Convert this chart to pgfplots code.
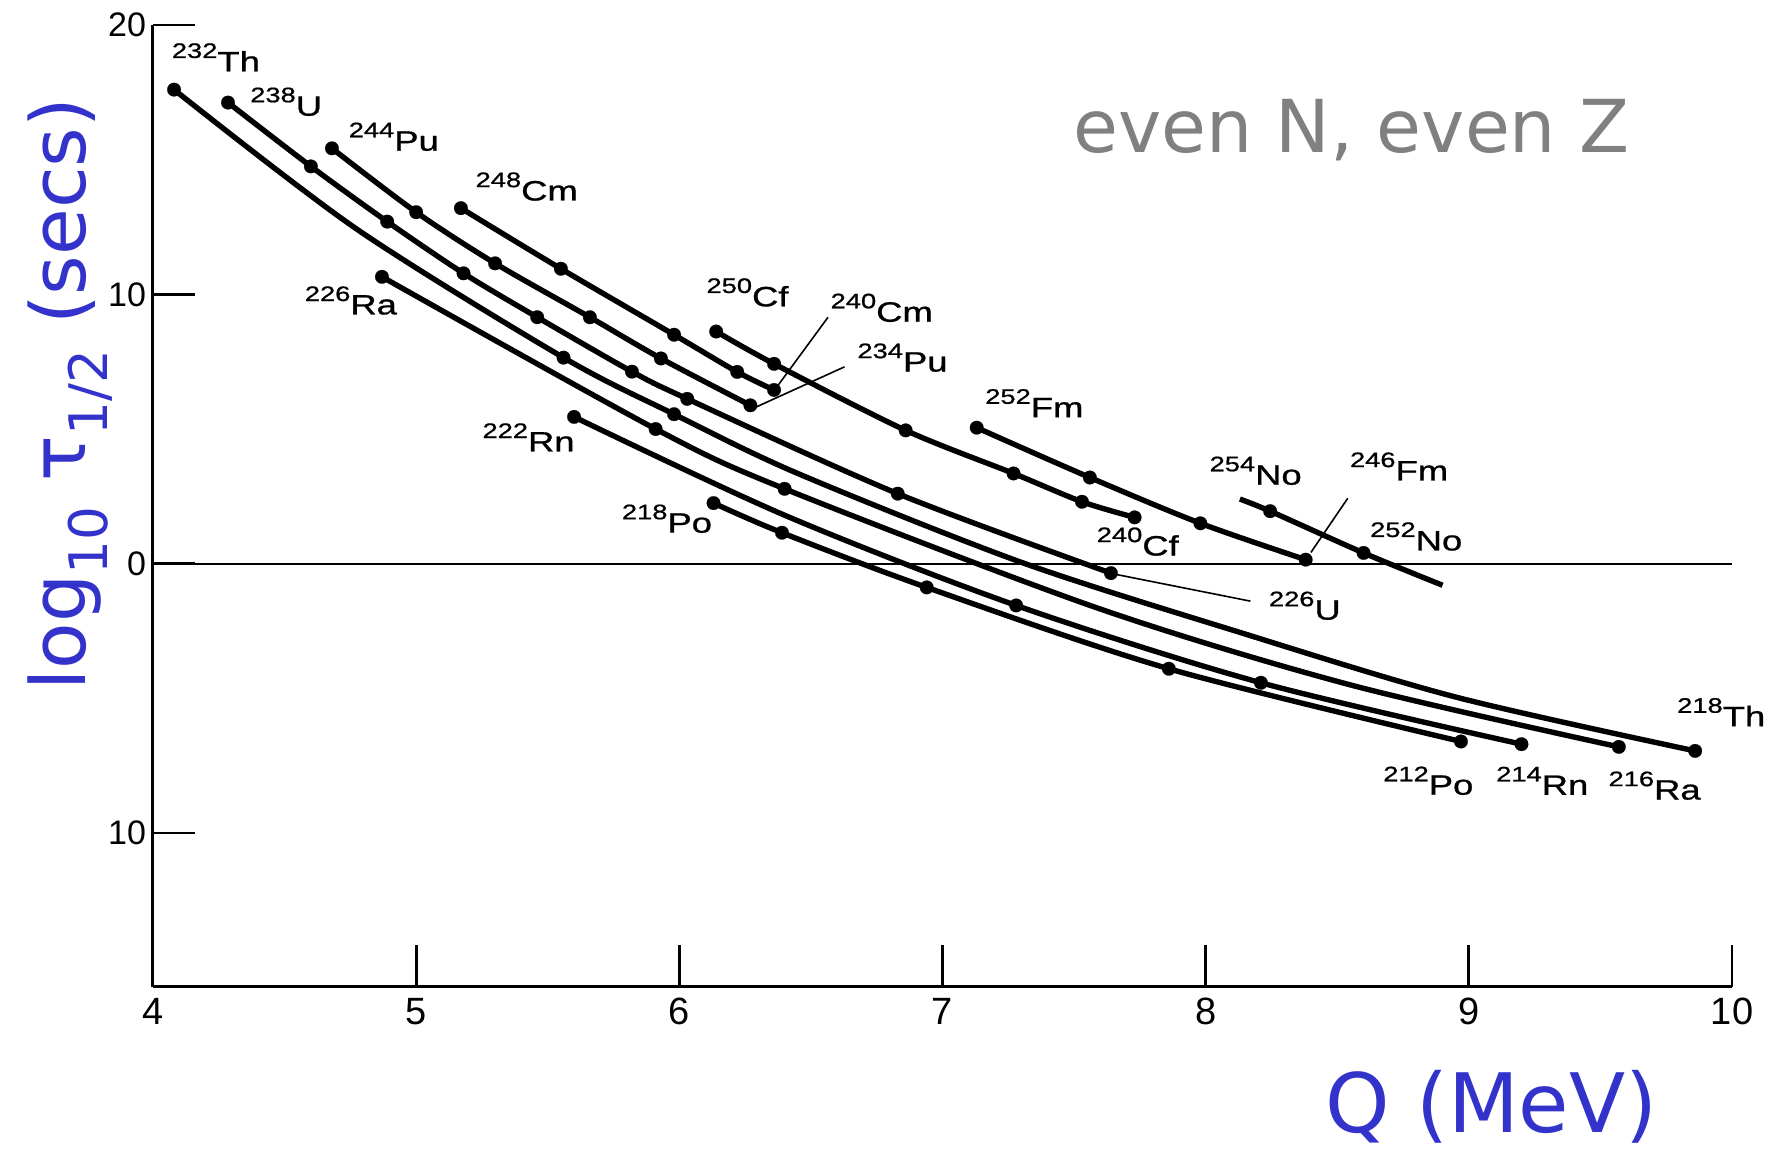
\documentclass[border=0pt]{standalone}
\usepackage{fontspec}
\setmainfont{Liberation Sans}
\newfontfamily\comic{DejaVu Sans}
\newfontfamily\isofont[FakeBold=0.8]{Liberation Sans}
\usepackage{graphicx}
\usepackage{pgfplots}
\pgfplotsset{compat=1.18}
\definecolor{lblue}{RGB}{51,51,204}
\definecolor{lgray}{RGB}{128,128,128}
\newcommand{\iso}[2]{\scalebox{1.3}[1]{\isofont\fontsize{14}{14}\selectfont\raisebox{6.7pt}{\fontsize{10.5}{10.5}\selectfont #1}#2}}
\begin{document}
\begin{tikzpicture}
\path[use as bounding box] (-76.5pt,-84.7pt) rectangle (812.5pt,493.3pt);
\begin{axis}[
  scale only axis, width=789.5pt, height=480.8pt,
  xmin=4, xmax=10, ymin=-15.7, ymax=20,
  axis lines*=left,
  axis line style={line width=1.5pt},
  clip=false,
  xtick={4,5,6,7,8,9,10},
  xticklabels={4,5,6,7,8,9,10},
  ytick={-10,0,10,20},
  yticklabels={10,0,10,20},
  tick align=inside,
  major tick length=21pt,
  tick style={line width=1.4pt, black},
  xticklabel style={font=\fontsize{19}{19}\selectfont, yshift=-2.2pt},
  yticklabel style={font=\fontsize{17}{17}\selectfont},
  curve/.style={black, line width=2.7pt, smooth},
  dots/.style={only marks, mark=*, mark size=3.4pt, black, mark options={line width=0.1pt}},
  lead/.style={black, line width=0.8pt},
]
% zero line
\addplot[black, line width=1.2pt] coordinates {(4,0) (10,0)};

% Th
\addplot[curve] coordinates {(4.08,17.6) (4.77,12.45) (5.56,7.65) (5.98,5.55) (6.45,3.35) (7.30,0.05) (8.13,-2.55) (8.95,-4.95) (9.86,-6.95)};
\addplot[dots] coordinates {(4.08,17.6) (5.56,7.65) (5.98,5.55) (9.86,-6.95)};
% U
\addplot[curve] coordinates {(4.285,17.12) (4.60,14.75) (4.89,12.7) (5.18,10.78) (5.46,9.15) (5.82,7.13) (6.03,6.12) (6.83,2.6) (7.64,-0.35)};
\addplot[dots] coordinates {(4.285,17.12) (4.60,14.75) (4.89,12.7) (5.18,10.78) (5.46,9.15) (5.82,7.13) (6.03,6.12) (6.83,2.6) (7.64,-0.35)};
% Pu
\addplot[curve] coordinates {(4.68,15.42) (5.00,13.05) (5.30,11.15) (5.66,9.15) (5.93,7.62) (6.27,5.88)};
\addplot[dots] coordinates {(4.68,15.42) (5.00,13.05) (5.30,11.15) (5.66,9.15) (5.93,7.62) (6.27,5.88)};
% Cm
\addplot[curve] coordinates {(5.17,13.2) (5.55,10.95) (5.98,8.5) (6.22,7.12) (6.36,6.45)};
\addplot[dots] coordinates {(5.17,13.2) (5.55,10.95) (5.98,8.5) (6.22,7.12) (6.36,6.45)};
% Cf
\addplot[curve] coordinates {(6.14,8.62) (6.36,7.42) (6.86,4.95) (7.27,3.35) (7.53,2.3) (7.73,1.72)};
\addplot[dots] coordinates {(6.14,8.62) (6.36,7.42) (6.86,4.95) (7.27,3.35) (7.53,2.3) (7.73,1.72)};
% Fm
\addplot[curve] coordinates {(7.13,5.05) (7.56,3.2) (7.98,1.5) (8.38,0.15)};
\addplot[dots] coordinates {(7.13,5.05) (7.56,3.2) (7.98,1.5) (8.38,0.15)};
% No
\addplot[curve] coordinates {(8.13,2.4) (8.245,1.95) (8.60,0.4) (8.90,-0.8)};
\addplot[dots] coordinates {(8.245,1.95) (8.60,0.4)};
% Ra
\addplot[curve] coordinates {(4.87,10.65) (5.91,5.0) (6.40,2.78) (7.59,-1.65) (8.55,-4.5) (9.57,-6.8)};
\addplot[dots] coordinates {(4.87,10.65) (5.91,5.0) (6.40,2.78) (9.57,-6.8)};
% Rn
\addplot[curve] coordinates {(5.60,5.45) (6.40,1.8) (7.28,-1.55) (8.21,-4.42) (9.20,-6.7)};
\addplot[dots] coordinates {(5.60,5.45) (7.28,-1.55) (8.21,-4.42) (9.20,-6.7)};
% Po
\addplot[curve] coordinates {(6.13,2.25) (6.39,1.15) (6.94,-0.88) (7.86,-3.9) (8.97,-6.6)};
\addplot[dots] coordinates {(6.13,2.25) (6.39,1.15) (6.94,-0.88) (7.86,-3.9) (8.97,-6.6)};

% leader lines
\addplot[lead] coordinates {(6.565,9.15) (6.375,6.62)};
\addplot[lead] coordinates {(6.628,7.31) (6.288,5.8)};
\addplot[lead] coordinates {(7.65,-0.38) (8.17,-1.39)};
\addplot[lead] coordinates {(8.54,2.43) (8.40,0.42)};

% isotope labels
\begin{scope}[every node/.style={inner sep=0pt}]
\node at (axis cs:4.239,18.8) {\iso{232}{Th}};
\node at (axis cs:4.506,17.15) {\iso{238}{U}};
\node at (axis cs:4.915,15.85) {\iso{244}{Pu}};
\node at (axis cs:5.42,14.0) {\iso{248}{Cm}};
\node at (axis cs:4.752,9.77) {\iso{226}{Ra}};
\node at (axis cs:6.259,10.07) {\iso{250}{Cf}};
\node at (axis cs:6.769,9.5) {\iso{240}{Cm}};
\node at (axis cs:6.848,7.65) {\iso{234}{Pu}};
\node at (axis cs:7.349,5.96) {\iso{252}{Fm}};
\node at (axis cs:5.427,4.69) {\iso{222}{Rn}};
\node at (axis cs:8.19,3.45) {\iso{254}{No}};
\node at (axis cs:8.735,3.61) {\iso{246}{Fm}};
\node at (axis cs:5.953,1.67) {\iso{218}{Po}};
\node at (axis cs:7.742,0.82) {\iso{240}{Cf}};
\node at (axis cs:8.80,1.01) {\iso{252}{No}};
\node at (axis cs:8.377,-1.56) {\iso{226}{U}};
\node at (axis cs:9.959,-5.51) {\iso{218}{Th}};
\node at (axis cs:8.846,-8.06) {\iso{212}{Po}};
\node at (axis cs:9.279,-8.06) {\iso{214}{Rn}};
\node at (axis cs:9.706,-8.24) {\iso{216}{Ra}};
\end{scope}

% titles
\node[anchor=base, text=lblue, inner sep=0pt] at (axis cs:9.086,-21.1) {\comic\fontsize{41}{45}\selectfont Q (MeV)};
\node[anchor=base, text=lgray, inner sep=0pt] at (axis cs:8.554,15.25) {\comic\fontsize{36.5}{40}\selectfont even N, even Z};
\node[anchor=base, text=lblue, inner sep=0pt, rotate=90] at (axis cs:3.742,6.30) {\comic\fontsize{38}{42}\selectfont log\textsubscript{10} τ\textsubscript{1/2} (secs)};
\end{axis}
\end{tikzpicture}
\end{document}
